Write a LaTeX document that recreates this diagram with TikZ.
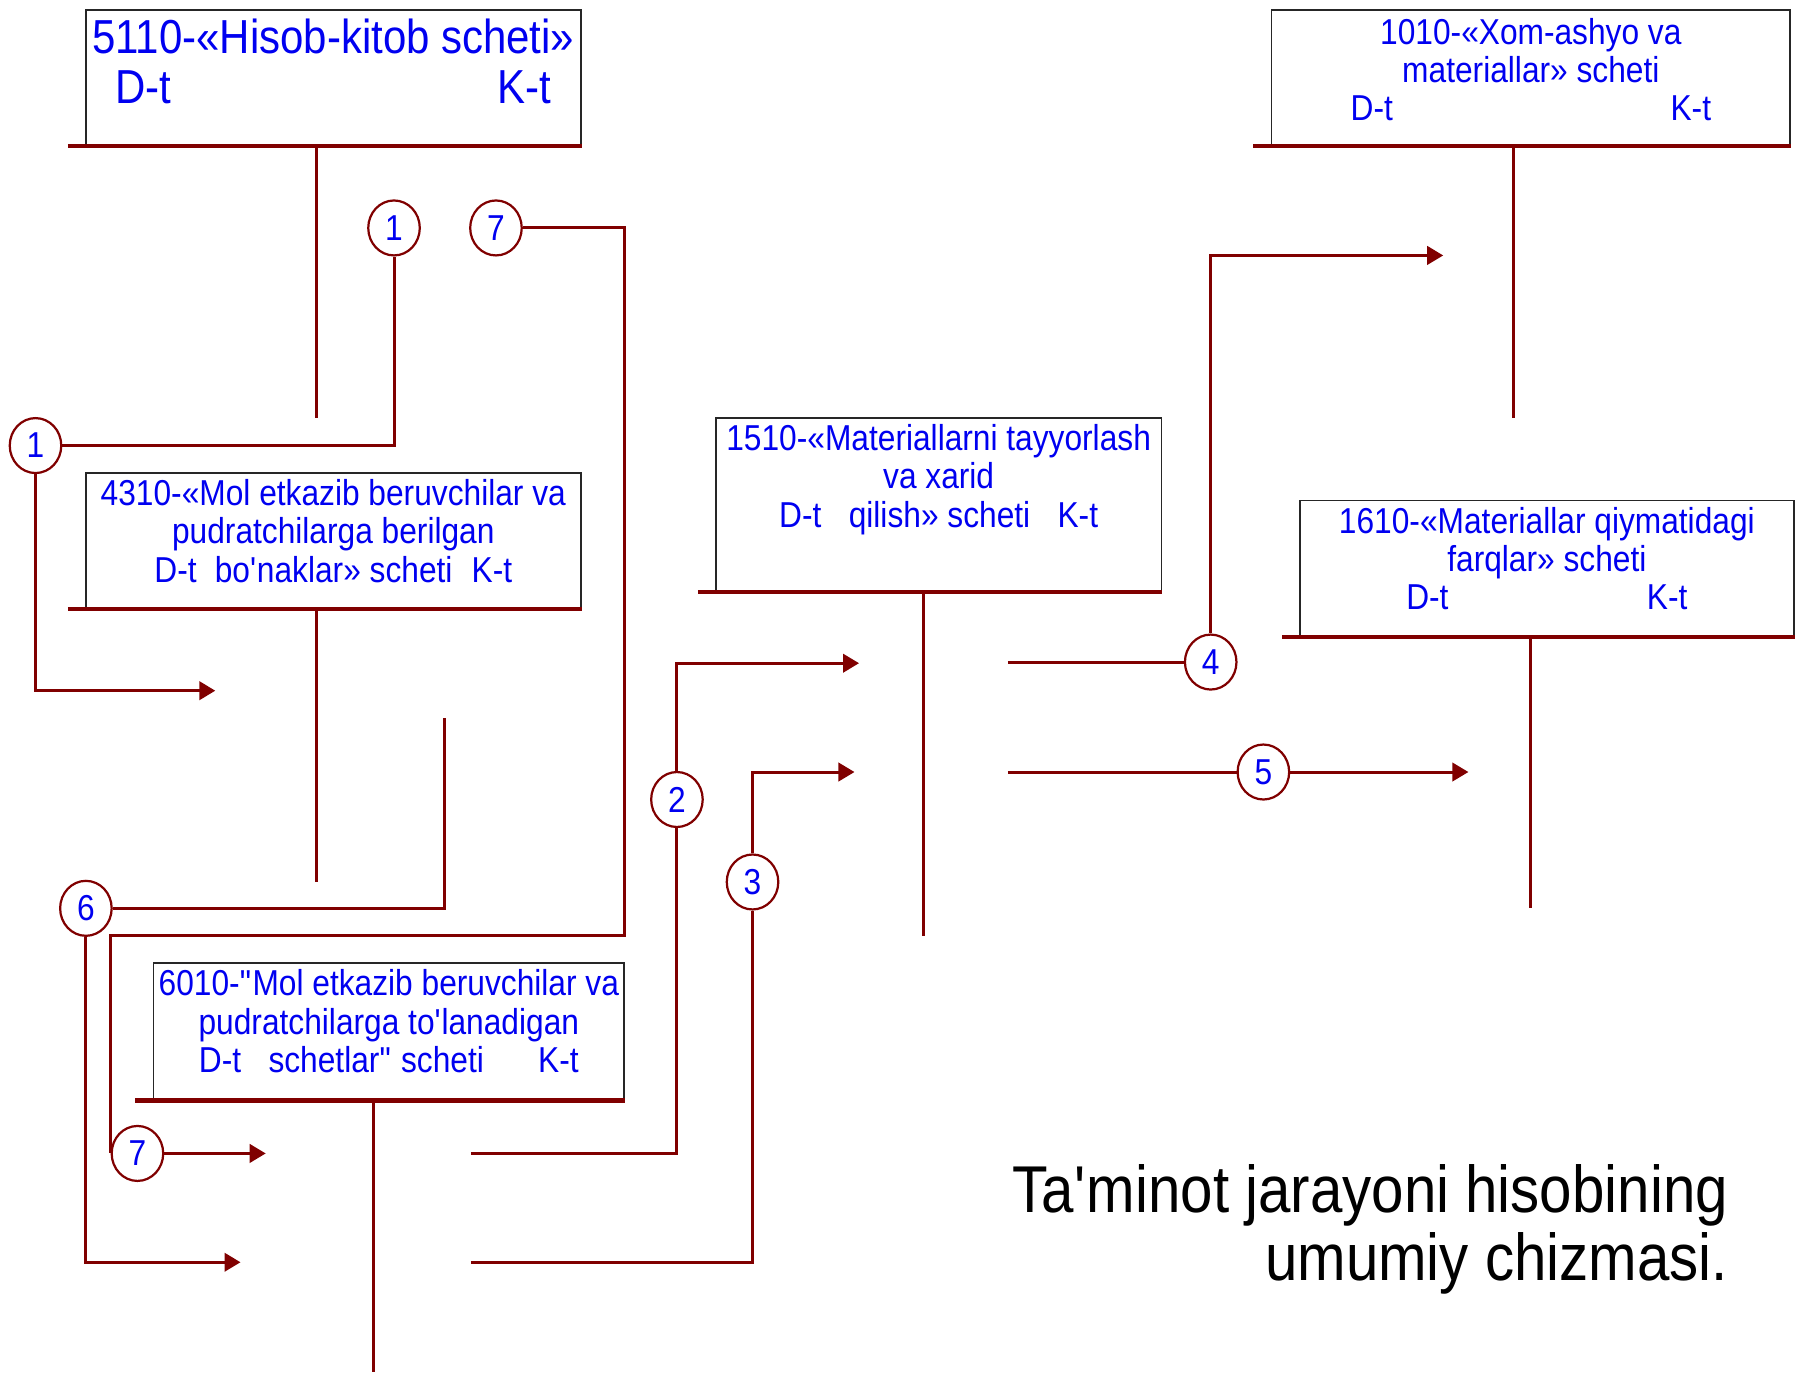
\documentclass[tikz,border=0pt]{standalone}
\usepackage{fontspec}
\usetikzlibrary{arrows.meta,shapes.geometric,positioning}
\newfontfamily\acfont[FakeStretch=0.88]{Liberation Sans}
\definecolor{acred}{HTML}{800000}
\definecolor{acblue}{HTML}{0000F0}

\begin{document}
\begin{tikzpicture}[x=0.02cm,y=-0.02cm,>={Triangle[length=0.28cm,width=0.32cm]},
	account/.style={draw=black!85,line width=0.9pt,inner sep=0pt},
	acname/.style={text=acblue,align=center,inner sep=0pt,font={\acfont\fontsize{17.9pt}{19pt}\selectfont}},
	bigname/.style={acname,font={\acfont\fontsize{23.7pt}{25pt}\selectfont}},
	num/.style={ellipse,draw=acred,line width=1.1pt,minimum width=0.9cm,minimum height=0.96cm,inner sep=0pt,text=acblue,font={\acfont\fontsize{17.9pt}{19pt}\selectfont}},
	flow/.style={draw=acred,line width=1.5pt},
	base/.style={draw=acred,line width=2pt},
	tee/.style={draw=acred,line width=1.5pt}]

    \useasboundingbox (0,0) rectangle (1568,1198);

    \node[account,minimum width=8.64cm,minimum height=2.36cm] (a5110) at (291,68) {};
    \node[account,minimum width=9.06cm,minimum height=2.36cm] (a1010) at (1336.5,68) {};
    \node[account,minimum width=8.64cm,minimum height=2.36cm] (a4310) at (291,472) {};
    \node[account,minimum width=7.78cm,minimum height=3.02cm] (a1510) at (819.5,440.5) {};
    \node[account,minimum width=8.62cm,minimum height=2.36cm] (a1610) at (1350.5,496) {};
    \node[account,minimum width=8.22cm,minimum height=2.38cm] (a6010) at (339.5,900.5) {};

    \node[bigname,below=0.16cm of a5110.north] (t5110) {5110-«Hisob-kitob scheti»\\D-t\hspace{162pt}K-t};
    \node[acname,below=0.15cm of a1010.north] (t1010) {1010-«Xom-ashyo va\\materiallar» scheti\\D-t\hspace{138pt}K-t};
    \node[acname,below=0.12cm of a4310.north] (t4310) {4310-«Mol etkazib beruvchilar va\\pudratchilarga berilgan\\D-t\hspace{9pt}bo\textquotesingle naklar» scheti\hspace{9.5pt}K-t};
    \node[acname,below=0.12cm of a1510.north] (t1510) {1510-«Materiallarni tayyorlash\\va xarid\\D-t\hspace{13.6pt}qilish» scheti\hspace{13.6pt}K-t};
    \node[acname,below=0.12cm of a1610.north] (t1610) {1610-«Materiallar qiymatidagi\\farqlar» scheti\\D-t\hspace{98.6pt}K-t};
    \node[acname,below=0.12cm of a6010.north] (t6010) {6010-\textquotedbl Mol etkazib beruvchilar va\\pudratchilarga to\textquotesingle lanadigan\\D-t\hspace{13.6pt}schetlar\textquotedbl{} scheti\hspace{27pt}K-t};

	\node[num] (n1a) at (344,199) {1};
	\node[num] (n7a) at (433,199) {7};
	\node[num] (n1b) at (31,389) {1};
	\node[num] (n6) at (75,793) {6};
	\node[num] (n7b) at (120,1007) {7};
	\node[num] (n2) at (591,698) {2};
	\node[num] (n3) at (657,770) {3};
	\node[num] (n4) at (1057,578) {4};
	\node[num] (n5) at (1103,674) {5};

    \node[font={\acfont\fontsize{32.9pt}{34pt}\selectfont},align=right,anchor=north east,inner sep=0pt] (title) at (1509,1016) {Ta\textquotesingle minot jarayoni hisobining\\umumiy chizmasi.};

    \coordinate (f5110) at (276,365);
    \coordinate (f1010) at (1321,365);
    \coordinate (f4310) at (276,770);
    \coordinate (f1510) at (806,817);
    \coordinate (f1610) at (1336,793);
    \coordinate (f6010) at (326,1198);

    \coordinate (e1) at (188,603);
    \coordinate (k7) at (545,817);
    \coordinate (e7) at (232,1007);
    \coordinate (s6) at (388,627);
    \coordinate (e6) at (210,1102);
    \coordinate (s2) at (411,1007);
    \coordinate (e2) at (750,579);
    \coordinate (s3) at (411,1102);
    \coordinate (e3) at (746,674);
    \coordinate (s4) at (880,578);
    \coordinate (e4) at (1260,223);
    \coordinate (s5) at (880,674);
    \coordinate (e5) at (1282,674);

    \foreach \a in {a5110,a1010,a4310,a1510,a1610,a6010}
        \draw[base] ([xshift=-0.3cm]\a.south west) -- (\a.south east);

    \foreach \f/\a in {f5110/a5110,f1010/a1010,f4310/a4310,f1510/a1510,f1610/a1610,f6010/a6010}
        \draw[tee] (\f |- \a.south) -- (\f);

	\draw[flow] (n1a.south) |- (n1b.east);
	\draw[flow,->] (n1b.south) |- (e1);
	\draw[flow] (n7a.east) -| (k7) -| (n7b.west);
	\draw[flow,->] (n7b.east) -- (e7);
	\draw[flow] (n6.east) -| (s6);
	\draw[flow,->] (n6.south) |- (e6);
	\draw[flow] (s2) -| (n2.south);
	\draw[flow,->] (n2.north) |- (e2);
	\draw[flow] (s3) -| (n3.south);
	\draw[flow,->] (n3.north) |- (e3);
	\draw[flow] (s4) -- (n4.west);
	\draw[flow,->] (n4.north) |- (e4);
	\draw[flow] (s5) -- (n5.west);
	\draw[flow,->] (n5.east) -- (e5);

\end{tikzpicture}
\end{document}
